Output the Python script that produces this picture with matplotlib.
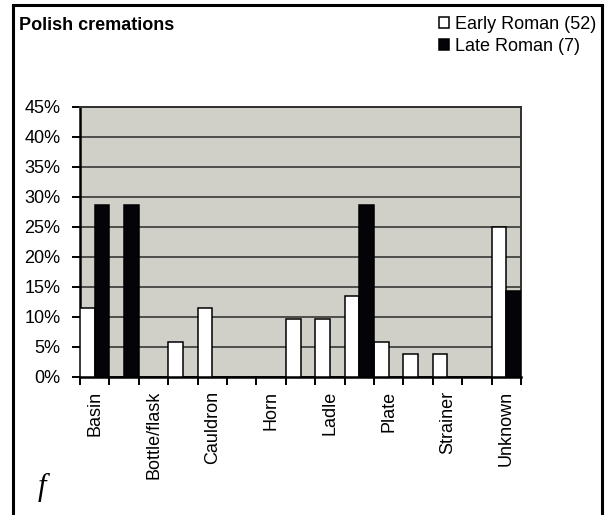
import numpy as np
import matplotlib
matplotlib.use("Agg")
import matplotlib.pyplot as plt
from matplotlib.patches import Rectangle

plt.rcParams['font.family'] = ['Liberation Sans', 'DejaVu Sans']

# 15 categories, only every other one gets a visible label (as in the original)
categories = ['Basin', 'Beaker', 'Bottle/flask', 'Bucket', 'Cauldron', 'Cup',
              'Horn', 'Jug', 'Ladle', 'Patera', 'Plate', 'Saucepan',
              'Strainer', 'Tray', 'Unknown']
early_roman = [11.5, 0, 0, 5.8, 11.5, 0, 0, 9.6, 9.6, 13.5, 5.8, 3.8, 3.8, 0, 25.0]
late_roman = [28.6, 28.6, 0, 0, 0, 0, 0, 0, 0, 28.6, 0, 0, 0, 0, 14.3]
series_names = ['Early Roman (52)', 'Late Roman (7)']
yticks = [0, 5, 10, 15, 20, 25, 30, 35, 40, 45]

W, H = 608, 515
fig = plt.figure(figsize=(W / 100, H / 100), dpi=100)
ax = fig.add_axes([80 / W, 1 - 376.7 / H, (521 - 80) / W, (376.7 - 106.7) / H])
ax.set_facecolor('#D0D0C9')

x = np.arange(len(categories))
w = 0.5
b1 = ax.bar(x - w / 2, early_roman, w, color='white', edgecolor='black', linewidth=1.1,
            label=series_names[0], zorder=3)
b2 = ax.bar(x + w / 2, late_roman, w, color='#030308', edgecolor='black', linewidth=1.1,
            label=series_names[1], zorder=3)

ax.set_xlim(-0.5, len(categories) - 0.5)
ax.set_ylim(0, 45)
ax.set_yticks(yticks)
ax.set_yticklabels([f'{t}%' for t in yticks], fontsize=13)
ax.yaxis.grid(True, color='#2a2a2a', linewidth=1.1, zorder=1)
ax.set_axisbelow(True)

# ticks on category boundaries, labels on every other category
ax.set_xticks(np.arange(len(categories) + 1) - 0.5)
ax.set_xticklabels([])
ax.set_xticks(x[::2], minor=True)
ax.set_xticklabels(categories[::2], minor=True, rotation=90, fontsize=13)
ax.tick_params(axis='x', which='major', direction='out', length=6, width=1.4)
ax.tick_params(axis='x', which='minor', length=0, pad=10)
ax.tick_params(axis='y', direction='out', length=6, width=1.4, pad=8)

for s in ['left', 'bottom']:
    ax.spines[s].set_linewidth(1.8)
    ax.spines[s].set_color('black')
for s in ['top', 'right']:
    ax.spines[s].set_linewidth(1.4)
    ax.spines[s].set_color('#303030')

fig.text(19 / W, 1 - 25 / H, 'Polish cremations', fontsize=13, fontweight='bold',
         va='center', ha='left')
fig.text(42 / W, 1 - 487 / H, 'f', fontsize=22, style='italic',
         family=['Liberation Serif', 'DejaVu Serif'], ha='center', va='center')

fig.legend(handles=[b1, b2], loc='upper right', bbox_to_anchor=(596 / W, 1 - 16 / H),
           frameon=False, fontsize=13, handlelength=0.55, handleheight=0.55,
           handletextpad=0.3, labelspacing=0.25, borderpad=0, borderaxespad=0)

fig.patches.append(Rectangle((13 / W, -0.02), (602 - 13) / W, 1.02 - 5 / H,
                             transform=fig.transFigure, fill=False,
                             edgecolor='black', linewidth=2.2))

fig.savefig('out.png', dpi=100)
